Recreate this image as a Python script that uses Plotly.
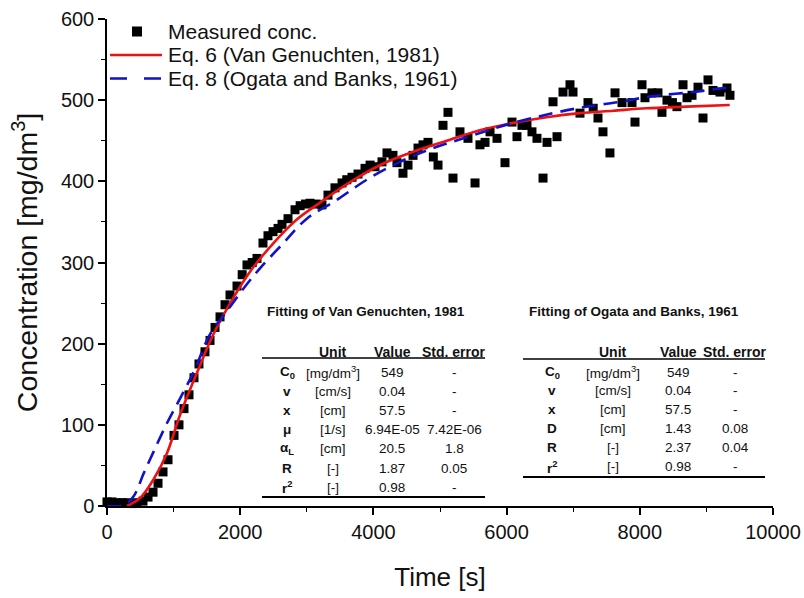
import plotly.graph_objects as go

# ---------------- data ----------------
time_meas = [0, 75, 150, 225, 300, 375, 450, 540, 616, 691, 766, 841, 916, 1006, 1081,
             1156, 1231, 1306, 1381, 1471, 1547, 1622, 1697, 1772, 1847, 1952, 2030,
             2102, 2180, 2252, 2342, 2417, 2493, 2568, 2628, 2718, 2823, 2900, 2980,
             3048, 3140, 3228, 3318, 3423, 3529, 3600, 3679, 3769, 3874, 3950, 4024,
             4129, 4204, 4294, 4354, 4444, 4520, 4595, 4670, 4745, 4820, 4900, 4970,
             5045, 5120, 5195, 5300, 5420, 5526, 5600, 5676, 5751, 5856, 5976, 6081,
             6156, 6231, 6306, 6381, 6456, 6547, 6607, 6697, 6757, 6847, 6952, 6997,
             7102, 7222, 7300, 7372, 7447, 7552, 7628, 7733, 7883, 7928, 8033, 8078,
             8183, 8273, 8333, 8408, 8490, 8558, 8649, 8709, 8784, 8874, 8949, 9024,
             9099, 9204, 9309, 9354]
conc_meas = [5, 5, 4, 4, 4, 3, 4, 6, 11, 17, 28, 42, 57, 87, 100,
             120, 137, 158, 175, 190, 204, 220, 233, 248, 260, 271, 285,
             297, 300, 305, 324, 333, 338, 342, 347, 354, 365, 370, 372,
             373, 372, 371, 383, 392, 398, 402, 405, 409, 416, 420, 418,
             424, 435, 432, 423, 410, 420, 432, 441, 445, 448, 430, 420,
             469, 485, 404, 461, 453, 398, 445, 448, 461, 453, 423, 473,
             455, 469, 469, 461, 453, 404, 448, 498, 455, 510, 519, 510,
             484, 497, 490, 478, 461, 435, 509, 497, 497, 473, 519, 503,
             509, 509, 485, 500, 497, 492, 519, 503, 506, 516, 478, 525,
             512, 510, 515, 506]

time_vg = [300, 500, 700, 900, 1100, 1350, 1600, 1900, 2150, 2500, 2850, 3150, 3650,
           4150, 4650, 5100, 5600, 6100, 6600, 7100, 7600, 8100, 8700, 9350]
conc_vg = [0, 10, 33, 65, 113, 164, 212, 257, 289, 324, 353, 371, 399,
           422, 438, 450, 463, 472, 479, 484, 487, 490, 492, 494]

time_ob = [0, 250, 400, 550, 700, 900, 1100, 1300, 1550, 1800, 2050, 2300, 2650, 3000,
           3450, 3900, 4400, 4900, 5350, 6100, 6700, 7200, 7700, 8200, 8800, 9350]
conc_ob = [0, 1, 12, 40, 67, 102, 133, 165, 212, 240, 268, 293, 324, 354,
           377, 402, 424, 441, 453, 472, 484, 492, 498, 505, 510, 516]

legend_names = ["Measured conc.", "Eq. 6 (Van Genuchten, 1981)", "Eq. 8 (Ogata and Banks, 1961)"]

# tables
vg_title = "Fitting of Van Genuchten, 1981"
vg_params = ["C<sub>0</sub>", "v", "x", "μ", "α<sub>L</sub>", "R", "r<sup>2</sup>"]
vg_units = ["[mg/dm<sup>3</sup>]", "[cm/s]", "[cm]", "[1/s]", "[cm]", "[-]", "[-]"]
vg_values = ["549", "0.04", "57.5", "6.94E-05", "20.5", "1.87", "0.98"]
vg_errors = ["-", "-", "-", "7.42E-06", "1.8", "0.05", "-"]

ob_title = "Fitting of Ogata and Banks, 1961"
ob_params = ["C<sub>0</sub>", "v", "x", "D", "R", "r<sup>2</sup>"]
ob_units = ["[mg/dm<sup>3</sup>]", "[cm/s]", "[cm]", "[cm]", "[-]", "[-]"]
ob_values = ["549", "0.04", "57.5", "1.43", "2.37", "0.98"]
ob_errors = ["-", "-", "-", "0.08", "0.04", "-"]
headers = ["Unit", "Value", "Std. error"]

# ---------------- figure ----------------
W, H = 804, 598
L, R, T, B = 107, 31, 19, 92
PW, PH = W - L - R, H - T - B


def px(xp):
    return (xp - L) / PW


def py(yp):
    return (H - B - yp) / PH


FONT = "Arial, Liberation Sans, sans-serif"
TXT = "#111111"
RED = "#ee1111"
BLUE = "#1111cc"

fig = go.Figure()
fig.add_trace(go.Scatter(x=time_meas, y=conc_meas, mode="markers", name=legend_names[0],
                         marker=dict(symbol="square", size=9, color="black"),
                         cliponaxis=False, showlegend=False))
fig.add_trace(go.Scatter(x=time_vg, y=conc_vg, mode="lines", name=legend_names[1],
                         line=dict(color=RED, width=2.6, shape="spline"), showlegend=False))
fig.add_trace(go.Scatter(x=time_ob, y=conc_ob, mode="lines", name=legend_names[2],
                         line=dict(color=BLUE, width=2.6, dash="14px,8px", shape="spline"),
                         showlegend=False))

ann = []
shapes = []

# ---- legend (drawn as annotations + sample shapes, tight Origin-style spacing) ----
leg_rows = [31.5, 55, 78.5]
for name, yy in zip(legend_names, leg_rows):
    ann.append(dict(text=name, x=px(166), y=py(yy), xanchor="left", yanchor="middle",
                    font=dict(size=21)))
shapes.append(dict(type="rect", xref="paper", yref="paper", x0=px(132), x1=px(142),
                   y0=py(36.5), y1=py(26.5), fillcolor="black", line=dict(width=0)))
shapes.append(dict(type="line", xref="paper", yref="paper", x0=px(110), x1=px(162),
                   y0=py(leg_rows[1]), y1=py(leg_rows[1]), line=dict(color=RED, width=2.6)))
shapes.append(dict(type="line", xref="paper", yref="paper", x0=px(110), x1=px(162),
                   y0=py(leg_rows[2]), y1=py(leg_rows[2]),
                   line=dict(color=BLUE, width=2.6, dash="17px,17px")))


def table(title, title_x, params, units, values, errors, col_x, line_x0, line_x1,
          header_y, top_line_y, row_y0, row_dy, bottom_line_y):
    ann.append(dict(text="<b>%s</b>" % title, x=px(title_x), y=py(311), xanchor="left",
                    yanchor="middle", font=dict(size=13.5)))
    for h, cx in zip(headers, col_x[1:]):
        ann.append(dict(text="<b>%s</b>" % h, x=px(cx), y=py(header_y), xanchor="center",
                        yanchor="middle", font=dict(size=14)))
    shapes.append(dict(type="line", xref="paper", yref="paper", x0=px(line_x0), x1=px(line_x1),
                       y0=py(top_line_y), y1=py(top_line_y), line=dict(color="black", width=1.4)))
    for i in range(len(params)):
        yy = py(row_y0 + i * row_dy)
        for j, (txt, cx) in enumerate(zip([params[i], units[i], values[i], errors[i]], col_x)):
            t = "<b>%s</b>" % txt if j == 0 else txt
            ann.append(dict(text=t, x=px(cx), y=yy, xanchor="center", yanchor="middle",
                            font=dict(size=13.5)))
    shapes.append(dict(type="line", xref="paper", yref="paper", x0=px(line_x0), x1=px(line_x1),
                       y0=py(bottom_line_y), y1=py(bottom_line_y), line=dict(color="black", width=2)))


table(vg_title, 265, vg_params, vg_units, vg_values, vg_errors,
      [287, 333, 392, 454], 262, 485, 352, 358, 372, 19.2, 497)
table(ob_title, 527, ob_params, ob_units, ob_values, ob_errors,
      [552, 613, 678, 735], 523, 765, 352, 359, 372, 18.9, 477)

for a in ann:
    a.update(xref="paper", yref="paper", showarrow=False)
    a["font"].update(family=FONT, color=TXT)

axis_common = dict(showline=True, linecolor="black", linewidth=1.5, ticks="outside",
                   ticklen=7, tickwidth=1.5, tickcolor="black", showgrid=False, zeroline=False,
                   tickfont=dict(size=20, family=FONT, color=TXT), tickformat="d",
                   minor=dict(ticks="outside", ticklen=4, tickwidth=1.2, tickcolor="black", showgrid=False))

fig.update_xaxes(range=[0, 10000], dtick=2000, tick0=0, minor_dtick=1000,
                 title=dict(text="Time [s]", font=dict(size=26, family=FONT, color=TXT), standoff=26),
                 **axis_common)
fig.update_yaxes(range=[0, 600], dtick=100, tick0=0, minor_dtick=50,
                 title=dict(text="Concentration [mg/dm<sup>3</sup>]", font=dict(size=28.5, family=FONT, color=TXT),
                            standoff=15),
                 **axis_common)

fig.update_layout(width=W, height=H, margin=dict(l=L, r=R, t=T, b=B, autoexpand=False),
                  plot_bgcolor="white", paper_bgcolor="white",
                  font=dict(family=FONT, color=TXT),
                  annotations=ann, shapes=shapes, showlegend=False)

fig.write_html("out.html", config={"displayModeBar": False},
               post_script="document.body.style.margin='0px';")
